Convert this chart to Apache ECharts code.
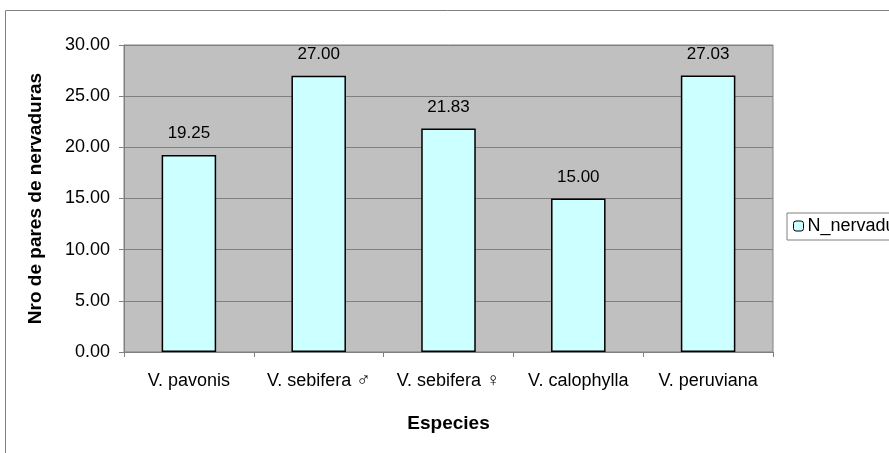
<!DOCTYPE html>
<html>
<head>
<meta charset="utf-8">
<style>
  html, body { margin: 0; padding: 0; background: #ffffff; }
  #chart { width: 889px; height: 453px; }
</style>
<script src="https://cdn.jsdelivr.net/npm/echarts@6/dist/echarts.min.js"></script>
</head>
<body>
<div id="chart"></div>
<script>
// Number of vein pairs per species
const species = ['V. pavonis', 'V. sebifera \u2642', 'V. sebifera \u2640', 'V. calophylla', 'V. peruviana'];
const nervaduras = [19.25, 27.00, 21.83, 15.00, 27.03];
const yTicks = [0, 5, 10, 15, 20, 25, 30];

const chart = echarts.init(document.getElementById('chart'));
const font = '"Liberation Sans", Arial, sans-serif';

// Sex symbols are drawn with a font that has full-size glyphs for them
function speciesLabel(name) {
  const m = name.match(/^(.*?)([\u2640\u2642])$/);
  return m ? m[1] + '{sym|' + m[2] + '}' : name;
}

chart.setOption({
  animation: false,
  backgroundColor: '#ffffff',
  textStyle: { fontFamily: font },
  graphic: [{
    type: 'rect',
    shape: { x: 5.5, y: 10.5, width: 1000, height: 1000 },
    style: { fill: 'none', stroke: '#808080', lineWidth: 1 },
    silent: true,
    z: -1
  }],
  grid: {
    left: 124, right: 116, top: 45, bottom: 101,
    show: true,
    backgroundColor: '#c0c0c0',
    borderColor: '#808080',
    borderWidth: 1
  },
  legend: {
    data: ['N_nervaduras'],
    left: 787, top: 213,
    orient: 'vertical',
    backgroundColor: '#ffffff',
    borderColor: '#808080',
    borderWidth: 1,
    padding: [4, 6, 5, 6],
    itemWidth: 10, itemHeight: 10,
    itemGap: 4,
    textStyle: { fontFamily: font, fontSize: 18, color: '#000000', padding: [0, 0, 0, -1] },
    itemStyle: { color: '#ccffff', borderColor: '#000000', borderWidth: 1 }
  },
  xAxis: {
    type: 'category',
    data: species,
    boundaryGap: true,
    axisLine: { lineStyle: { color: '#808080', width: 1 } },
    axisTick: { show: true, length: 5, lineStyle: { color: '#808080' } },
    axisLabel: {
      color: '#000000', fontSize: 18, fontFamily: font, margin: 20,
      interval: 0, hideOverlap: false,
      formatter: speciesLabel,
      rich: {
        sym: { fontFamily: '"DejaVu Sans"', fontSize: 19, fontWeight: 'lighter', color: '#000000' }
      }
    },
    name: 'Especies',
    nameLocation: 'middle',
    nameGap: 62,
    nameTextStyle: { fontSize: 19, fontWeight: 'bold', color: '#000000', fontFamily: font }
  },
  yAxis: {
    type: 'value',
    min: yTicks[0],
    max: yTicks[yTicks.length - 1],
    interval: yTicks[1] - yTicks[0],
    axisLine: { show: true, lineStyle: { color: '#808080', width: 1 } },
    axisTick: { show: true, length: 5, lineStyle: { color: '#808080' } },
    splitLine: { show: true, lineStyle: { color: '#808080', width: 1 } },
    axisLabel: {
      color: '#000000', fontSize: 18, fontFamily: font, margin: 14,
      formatter: v => v.toFixed(2)
    },
    name: 'Nro de pares de nervaduras',
    nameLocation: 'middle',
    nameGap: 79,
    nameRotate: 90,
    nameTextStyle: { fontSize: 19, fontWeight: 'bold', color: '#000000', fontFamily: font }
  },
  series: [{
    name: 'N_nervaduras',
    type: 'bar',
    data: nervaduras,
    barWidth: '42%',
    itemStyle: { color: '#ccffff', borderColor: '#000000', borderWidth: 1.5 },
    label: {
      show: true,
      position: 'top',
      distance: 13,
      color: '#000000',
      fontSize: 17,
      fontFamily: font,
      formatter: p => p.value.toFixed(2)
    }
  }]
});
</script>
</body>
</html>
